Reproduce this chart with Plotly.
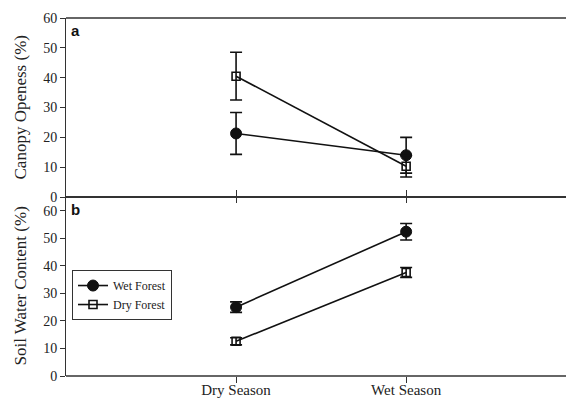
import plotly.graph_objects as go

seasons = ["Dry Season", "Wet Season"]
series = ["Wet Forest", "Dry Forest"]

canopy_wet = [21.3, 14.0]
canopy_wet_err = [7.0, 6.0]
canopy_dry = [40.5, 10.3]
canopy_dry_err = [8.0, 3.6]

soil_wet = [25.0, 52.4]
soil_wet_err = [1.9, 3.0]
soil_dry = [12.6, 37.6]
soil_dry_err = [1.3, 1.8]

yticks = [0, 10, 20, 30, 40, 50, 60]

xpos = [i + 1 for i in range(len(seasons))]
SERIF = "Liberation Serif, Times New Roman, serif"
INK = "#111111"
FRAME = "#333333"

styles = {
    "Wet Forest": dict(symbol="circle", size=11, color=INK, line=dict(color=INK, width=1)),
    "Dry Forest": dict(symbol="square-open", size=8, color=INK, line=dict(color=INK, width=1.6)),
}

fig = go.Figure()

def add(vals, errs, name, xa, ya, showleg):
    m = styles[name]
    if name == "Dry Forest":
        fig.add_trace(go.Scatter(
            x=xpos, y=vals, mode="markers", xaxis=xa, yaxis=ya, showlegend=False,
            hoverinfo="skip",
            marker=dict(symbol="square", size=8, color="white", line=dict(width=0)),
        ))
    fig.add_trace(go.Scatter(
        x=xpos, y=vals, name=name, mode="lines+markers", xaxis=xa, yaxis=ya,
        showlegend=showleg, legendgroup=name,
        line=dict(color=INK, width=1.6),
        marker=m,
        error_y=dict(type="data", array=errs, visible=True, color=INK, thickness=1.6, width=6),
    ))

add(canopy_wet, canopy_wet_err, "Wet Forest", "x2", "y2", False)
add(canopy_dry, canopy_dry_err, "Dry Forest", "x2", "y2", False)
add(soil_wet, soil_wet_err, "Wet Forest", "x", "y", True)
add(soil_dry, soil_dry_err, "Dry Forest", "x", "y", True)

tickfont = dict(family=SERIF, size=14, color="#222222")

fig.update_layout(
    width=566, height=400,
    margin=dict(l=66, r=0, t=18, b=24),
    paper_bgcolor="white", plot_bgcolor="white",
    showlegend=True,
    legend=dict(
        x=0.012, y=0.296, xanchor="left", yanchor="top",
        bordercolor=FRAME, borderwidth=1, bgcolor="white",
        font=dict(family=SERIF, size=12, color="#222222"),
        itemwidth=30, tracegroupgap=0, indentation=0,
    ),
    xaxis=dict(
        domain=[0, 1], range=[0, 2.94], anchor="y", automargin=False,
        tickvals=xpos, ticktext=seasons, tickfont=dict(family=SERIF, size=15, color="#222222"),
        ticks="outside", ticklen=6, tickwidth=1, tickcolor=FRAME, ticklabelstandoff=-6,
        showline=False, mirror="ticks",
        showgrid=False, zeroline=False,
    ),
    yaxis=dict(
        domain=[0, 0.5], range=[0, 65], anchor="x", automargin=False,
        tickvals=yticks, tickfont=tickfont,
        ticks="outside", ticklen=5, tickwidth=1, tickcolor=FRAME,
        showline=True, linecolor=FRAME, linewidth=1,
        showgrid=False, zeroline=False,
    ),
    xaxis2=dict(
        domain=[0, 1], range=[0, 2.94], anchor="y2", automargin=False,
        tickvals=xpos, showticklabels=False,
        ticks="outside", ticklen=5, tickwidth=1, tickcolor=FRAME,
        showline=False,
        showgrid=False, zeroline=False,
    ),
    yaxis2=dict(
        domain=[0.5, 1], range=[0, 60], anchor="x2", automargin=False,
        tickvals=yticks, tickfont=tickfont,
        ticks="outside", ticklen=5, tickwidth=1, tickcolor=FRAME,
        showline=True, linecolor=FRAME, linewidth=1,
        showgrid=False, zeroline=False,
    ),
    shapes=[
        dict(type="line", xref="paper", yref="paper", x0=0, x1=1, y0=y0, y1=y0,
             line=dict(color=FRAME, width=w))
        for y0, w in [(1, 1.5), (0.5, 2), (0, 1.5)]
    ],
    annotations=[
        dict(text="Canopy Openess (%)", xref="paper", yref="paper", x=0, y=0.75,
             xanchor="center", yanchor="middle", xshift=-46, textangle=-90, showarrow=False,
             font=dict(family=SERIF, size=17, color="#222222")),
        dict(text="Soil Water Content (%)", xref="paper", yref="paper", x=0, y=0.25,
             xanchor="center", yanchor="middle", xshift=-46, textangle=-90, showarrow=False,
             font=dict(family=SERIF, size=17, color="#222222")),
        dict(text="<b>a</b>", xref="paper", yref="paper", x=0, y=1, xanchor="left", yanchor="top",
             xshift=3, yshift=-2, showarrow=False,
             font=dict(family="Liberation Sans, Arial, sans-serif", size=15, color="#111111")),
        dict(text="<b>b</b>", xref="paper", yref="paper", x=0, y=0.5, xanchor="left", yanchor="top",
             xshift=3, yshift=-2, showarrow=False,
             font=dict(family="Liberation Sans, Arial, sans-serif", size=15, color="#111111")),
    ],
)

fig.write_html("out.html", config={"displayModeBar": False})
